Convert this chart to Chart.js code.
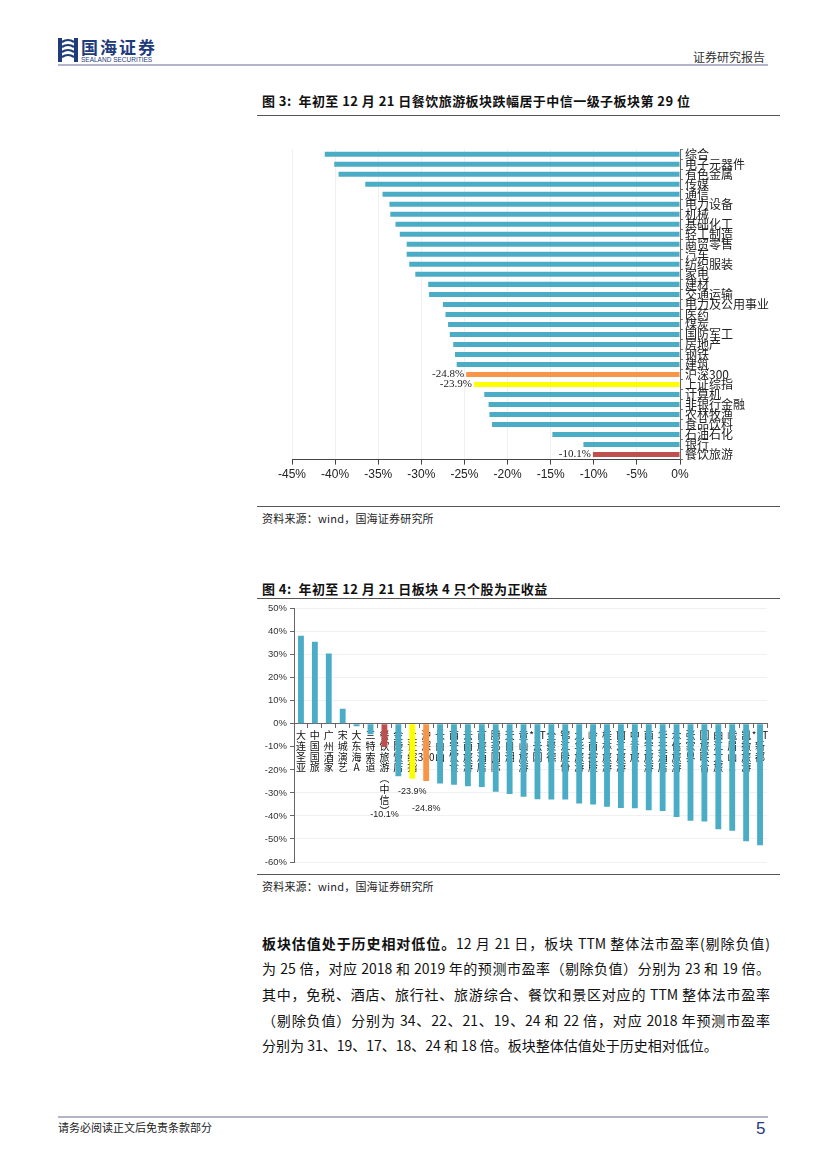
<!DOCTYPE html>
<html><head><meta charset="utf-8">
<script src="https://cdn.jsdelivr.net/npm/chart.js@4.4.0/dist/chart.umd.min.js"></script>
<style>
html,body{margin:0;padding:0;background:#fff;}
body{width:827px;height:1169px;position:relative;overflow:hidden;font-family:"Noto Sans CJK SC","Noto Sans",sans-serif;color:#111;}
.abs{position:absolute;}
.hline{position:absolute;height:0;}
.title{position:absolute;left:262px;font-size:13px;font-weight:bold;white-space:nowrap;line-height:16px;letter-spacing:0.45px;}
.src{position:absolute;left:262px;font-size:11px;color:#222;white-space:nowrap;line-height:14px;letter-spacing:0.2px;}
.para{position:absolute;left:262px;width:508px;font-size:14px;line-height:18px;white-space:nowrap;color:#111;}
.j{text-align:justify;text-align-last:justify;white-space:normal;}
canvas{position:absolute;}
</style></head>
<body>
<!-- header -->
<svg class="abs" style="left:58px;top:38px" width="20" height="24" viewBox="0 0 20 24">
  <rect x="0" y="0" width="4" height="24" fill="#1f3b7c"/>
  <rect x="16" y="0" width="4" height="24" fill="#1f3b7c"/>
  <path d="M4 4 Q10 0 16 4 M4 9 Q10 5 16 9 M4 14 Q10 10 16 14 M4 19 Q10 15 16 19" stroke="#1f3b7c" stroke-width="2.2" fill="none"/>
</svg>
<div class="abs" style="left:81px;top:37px;font-size:17px;font-weight:bold;color:#1f3b7c;letter-spacing:2px;line-height:20px;">国海证券</div>
<div class="abs" style="left:81px;top:56px;font-size:6.5px;color:#1f3b7c;line-height:7px;font-family:'Liberation Sans',sans-serif;">SEALAND SECURITIES</div>
<div class="abs" style="left:693px;top:49px;font-size:12px;color:#333;line-height:15px;">证券研究报告</div>
<div class="hline" style="left:58px;top:64px;width:710px;border-top:2px solid #b4b4cc;"></div>

<!-- figure 3 -->
<div class="title" style="top:93px;">图 3:&nbsp; 年初至 12 月 21 日餐饮旅游板块跌幅居于中信一级子板块第 29 位</div>
<div class="hline" style="left:257px;top:115px;width:523px;border-top:1.5px solid #555;"></div>
<canvas id="c1" width="520" height="345" style="left:260px;top:140px;"></canvas>
<div class="hline" style="left:257px;top:506px;width:523px;border-top:1.5px solid #555;"></div>
<div class="src" style="top:511px;">资料来源：wind，国海证券研究所</div>

<!-- figure 4 -->
<div class="title" style="top:581px;">图 4:&nbsp; 年初至 12 月 21 日板块 4 只个股为正收益</div>
<div class="hline" style="left:257px;top:598px;width:523px;border-top:1.5px solid #555;"></div>
<canvas id="c2" width="522" height="272" style="left:255px;top:600px;"></canvas>
<div class="hline" style="left:257px;top:874px;width:523px;border-top:1.5px solid #555;"></div>
<div class="src" style="top:879px;">资料来源：wind，国海证券研究所</div>

<!-- paragraph -->
<div class="para j" style="top:934px;"><b>板块估值处于历史相对低位。</b>12 月 21 日，板块 TTM 整体法市盈率(剔除负值)</div>
<div class="para j" style="top:959px;">为 25 倍，对应 2018 和 2019 年的预测市盈率（剔除负值）分别为 23 和 19 倍。</div>
<div class="para j" style="top:985px;">其中，免税、酒店、旅行社、旅游综合、餐饮和景区对应的 TTM 整体法市盈率</div>
<div class="para j" style="top:1011px;">（剔除负值）分别为 34、22、21、19、24 和 22 倍，对应 2018 年预测市盈率</div>
<div class="para" style="top:1036px;">分别为 31、19、17、18、24 和 18 倍。板块整体估值处于历史相对低位。</div>

<!-- footer -->
<div class="hline" style="left:58px;top:1116px;width:710px;border-top:2px solid #b4b4cc;"></div>
<div class="abs" style="left:58px;top:1120px;font-size:11px;color:#222;line-height:14px;">请务必阅读正文后免责条款部分</div>
<div class="abs" style="left:756px;top:1119px;font-size:17px;color:#1f3b7c;line-height:20px;font-family:'Liberation Sans',sans-serif;">5</div>

<script>
// ---------- Figure 3 data ----------
const industries = ['综合','电子元器件','有色金属','传媒','通信','电力设备','机械','基础化工','轻工制造','商贸零售','汽车','纺织服装','家电','建材','交通运输','电力及公用事业','医药','煤炭','国防军工','房地产','钢铁','建筑','沪深300','上证综指','计算机','非银行金融','农林牧渔','食品饮料','石油石化','银行','餐饮旅游'];
const industryReturns = [-41.2,-40.1,-39.6,-36.5,-34.5,-33.7,-33.6,-33.0,-32.5,-31.7,-31.7,-31.4,-30.7,-29.2,-29.1,-27.5,-27.2,-26.9,-26.7,-26.3,-26.1,-25.9,-24.8,-23.9,-22.7,-22.2,-22.1,-21.8,-14.8,-11.2,-10.1];
const industryLabeled = ['沪深300','上证综指','餐饮旅游'];
const xTicks3 = [-45,-40,-35,-30,-25,-20,-15,-10,-5,0];

// ---------- Figure 4 data ----------
const stocks = ['大连圣亚','中国国旅','广州酒家','宋城演艺','大东海A','三特索道','餐饮旅游(中信)','金陵饭店','上证综指','沪深300','长白山','西安饮食','云南旅游','首旅酒店','腾邦国际','天目湖','黄山旅游','*ST云网','全聚德','锦江股份','九华旅游','岭南控股','桂林旅游','丽江旅游','中青旅','西安旅游','华天酒店','众信旅游','张家界','国旅联合','曲江文旅','峨眉山A','凯撒旅游','*ST新都'];
const stockReturns = [38.2,35.6,30.5,6.5,-1.0,-4.5,-10.1,-22.8,-23.9,-24.8,-25.9,-26.4,-27.1,-27.4,-29.5,-30.5,-31.7,-32.7,-32.9,-32.9,-34.6,-35.0,-36.0,-36.5,-36.7,-37.5,-37.8,-40.5,-42.1,-42.4,-45.8,-46.4,-51.0,-52.7];
const stockLabeled = ['餐饮旅游(中信)','上证综指','沪深300'];
const stockLabelAnchor = [-39.2,-29.3,-36.8]; // value level where each callout text sits
const yTicks4 = [50,40,30,20,10,0,-10,-20,-30,-40,-50,-60];

const BLUE='#4bacc6', RED='#c0504d', YELLOW='#ffff00', ORANGE='#f79646';
function colorFor(name){
  if(name==='沪深300') return ORANGE;
  if(name==='上证综指') return YELLOW;
  if(name==='餐饮旅游' || name==='餐饮旅游(中信)') return RED;
  return BLUE;
}
function verticalize(name){
  const out=[]; let buf='';
  for(const ch of name){
    if(/[A-Za-z0-9*]/.test(ch)){buf+=ch;}
    else{ if(buf){out.push(buf);buf='';}
      if(ch==='(') out.push('︵'); else if(ch===')') out.push('︶'); else out.push(ch);}
  }
  if(buf) out.push(buf);
  return out;
}

const valueLabels3 = {
  id:'valueLabels3',
  afterDatasetsDraw(chart){
    const {ctx, scales:{x,y}} = chart;
    ctx.save();
    ctx.font = '11px "Liberation Serif", serif';
    ctx.fillStyle = '#222';
    ctx.textAlign = 'right'; ctx.textBaseline = 'middle';
    industries.forEach((n,i)=>{
      if(!industryLabeled.includes(n)) return;
      const v = industryReturns[i];
      ctx.fillText(v.toFixed(1)+'%', x.getPixelForValue(v)-2, y.getPixelForValue(i));
    });
    ctx.restore();
  }
};

new Chart(document.getElementById('c1'), {
  type:'bar',
  data:{labels:industries, datasets:[{data:industryReturns, backgroundColor:industries.map(colorFor), barPercentage:0.5, categoryPercentage:1}]},
  options:{
    indexAxis:'y', responsive:false, animation:false,
    layout:{padding:{left:32, top:3, right:0, bottom:0}},
    plugins:{legend:{display:false}, tooltip:{enabled:false}},
    scales:{
      x:{min:-45, max:0, afterBuildTicks(s){s.ticks = xTicks3.map(v=>({value:v}));},
         ticks:{callback:v=>v+'%', font:{family:'"Liberation Sans", Arial, sans-serif', size:12}, color:'#222', padding:3},
         grid:{color:'#f0f0f0', tickColor:'#444', tickLength:5}, border:{color:'#444'}},
      y:{position:'right',
         ticks:{autoSkip:false, font:{family:'"Noto Sans CJK SC", sans-serif', size:12}, color:'#222', padding:2},
         grid:{display:true, drawOnChartArea:false, offset:true, tickLength:3, tickColor:'#777'}, border:{color:'#666'},
         afterFit(s){s.width=100;}}
    }
  },
  plugins:[valueLabels3]
});

const valueLabels4 = {
  id:'valueLabels4',
  afterDatasetsDraw(chart){
    const {ctx, scales:{x,y}} = chart;
    ctx.save();
    ctx.font = '9px "Liberation Sans Narrow", "Liberation Sans", sans-serif';
    ctx.fillStyle = '#222';
    ctx.textAlign = 'center'; ctx.textBaseline = 'middle';
    stockLabeled.forEach((n,k)=>{
      const i = stocks.indexOf(n);
      const v = stockReturns[i];
      ctx.fillText(v.toFixed(1)+'%', x.getPixelForValue(i), y.getPixelForValue(stockLabelAnchor[k]));
    });
    ctx.restore();
  }
};

new Chart(document.getElementById('c2'), {
  type:'bar',
  data:{labels:stocks.map(verticalize), datasets:[{data:stockReturns, backgroundColor:stocks.map(colorFor), barPercentage:0.42, categoryPercentage:1}]},
  options:{
    responsive:false, animation:false,
    layout:{padding:{left:0, top:7, right:10, bottom:10}},
    plugins:{legend:{display:false}, tooltip:{enabled:false}},
    scales:{
      x:{position:{y:0}, z:1,
         ticks:{autoSkip:false, maxRotation:0, minRotation:0, font:{family:'"Noto Sans CJK SC", sans-serif', size:10, lineHeight:1.08}, color:'#111', padding:2},
         grid:{drawOnChartArea:false, offset:true, tickLength:4, tickColor:'#666'}, border:{color:'#666'}},
      y:{min:-60, max:50, afterBuildTicks(s){s.ticks = yTicks4.map(v=>({value:v}));},
         ticks:{callback:v=>v+'%', font:{family:'"Liberation Sans Narrow", "Liberation Sans", sans-serif', size:9.5}, color:'#333', padding:3},
         grid:{color:'#f0f0f0', tickColor:'#666', tickLength:4}, border:{color:'#666'},
         afterFit(s){s.width=39;}}
    }
  },
  plugins:[valueLabels4]
});
</script>
</body></html>
